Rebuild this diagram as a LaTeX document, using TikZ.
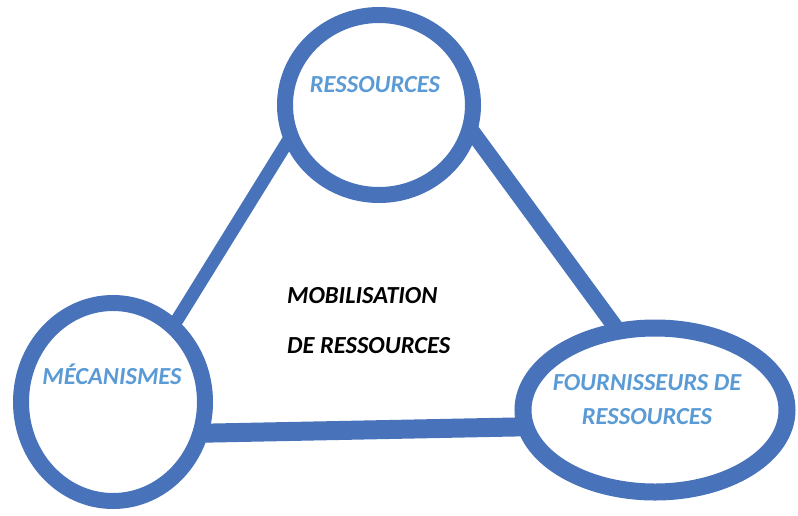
\documentclass[tikz,border=0pt]{standalone}
\usepackage{fontspec}
\setmainfont{Carlito}
\usetikzlibrary{shapes.geometric,backgrounds}
\definecolor{ringblue}{RGB}{72,114,186}
\definecolor{lblblue}{RGB}{91,155,213}
\begin{document}
\begin{tikzpicture}[x=1pt,y=-1pt,
  ringnode/.style={ellipse,draw=ringblue,fill=white,inner sep=0pt},
  conn/.style={draw=ringblue,line cap=butt,shorten <=-12pt,shorten >=-12pt},
  bluetxt/.style={text=lblblue,font=\fontsize{24.5}{28}\selectfont\bfseries\itshape,inner sep=0pt,anchor=base},
  blacktxt/.style={text=black,font=\fontsize{24.5}{28}\selectfont\bfseries\itshape,inner sep=0pt,anchor=base west}]
\useasboundingbox (0,0) rectangle (798,515);
\node[ringnode,line width=16pt,minimum width=188pt,minimum height=180pt] (res) at (379,105) {};
\node[ringnode,line width=16pt,minimum width=184pt,minimum height=198pt] (mec) at (113,402) {};
\node[ringnode,line width=17pt,minimum width=264pt,minimum height=164pt] (four) at (655,410) {};
\begin{scope}[on background layer]
\draw[conn,line width=13pt] (res.203) -- (mec.52);
\draw[conn,line width=16pt] (res.342) -- (four.116);
\draw[conn,line width=19pt] (mec.342) -- (four.187);
\end{scope}
\node[bluetxt] (t1) at (375,92) {RESSOURCES};
\node[bluetxt] (t2) at (112,384) {MÉCANISMES};
\node[bluetxt] (t3) at (647,390) {FOURNISSEURS DE};
\node[bluetxt] (t4) at (647,424) {RESSOURCES};
\node[blacktxt] (t5) at (287,303) {MOBILISATION};
\node[blacktxt] (t6) at (287,353) {DE RESSOURCES};
\end{tikzpicture}
\end{document}
